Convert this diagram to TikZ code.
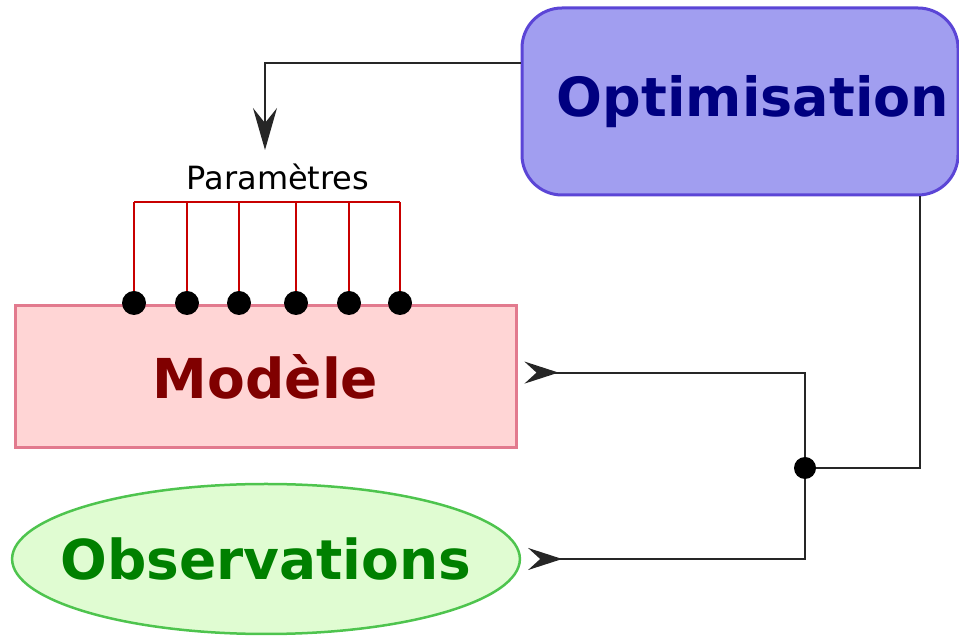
\documentclass[tikz,border=0pt]{standalone}
\usepackage{fontspec}
\setmainfont{DejaVu Sans}
\usepackage{tikz}
\usetikzlibrary{arrows.meta,shapes.geometric,positioning}
\definecolor{optfill}{HTML}{A19EF0}
\definecolor{optline}{HTML}{5B45D6}
\definecolor{opttext}{HTML}{000080}
\definecolor{modfill}{HTML}{FFD5D5}
\definecolor{modline}{HTML}{E27A8E}
\definecolor{modtext}{HTML}{800000}
\definecolor{obsfill}{HTML}{E0FCD2}
\definecolor{obsline}{HTML}{4EC44E}
\definecolor{obstext}{HTML}{008000}
\definecolor{parred}{HTML}{C80000}
\tikzset{
  optbox/.style={draw=optline, fill=optfill, line width=3pt, rounded corners=40pt,
    minimum width=436pt, minimum height=187pt, text=opttext,
    font=\fontsize{54}{60}\selectfont\bfseries},
  modbox/.style={draw=modline, fill=modfill, line width=3pt,
    minimum width=501pt, minimum height=142pt, text=modtext,
    font=\fontsize{55}{60}\selectfont\bfseries},
  obsbox/.style={ellipse, draw=obsline, fill=obsfill, line width=2.5pt,
    inner xsep=-26pt, inner ysep=0pt, minimum width=504pt, minimum height=150pt,
    text=obstext, font=\fontsize{55}{60}\selectfont\bfseries},
  parlbl/.style={font=\fontsize{32}{38}\selectfont, anchor=base},
  pdot/.style={circle, fill=black, inner sep=0pt, minimum size=24pt},
  jdot/.style={circle, fill=black, inner sep=0pt, minimum size=22pt},
  wire/.style={draw=black!85, line width=2pt},
  parline/.style={draw=parred, line width=2pt},
  headend/.style={arrows={-Stealth[length=42pt,width=24pt,inset=15pt]}},
  headstart/.style={arrows={Stealth[reversed,length=34pt,width=22pt,inset=12pt]-},
    shorten <=7pt}
}
\begin{document}
\begin{tikzpicture}[x=1pt,y=1pt]
\useasboundingbox (0,0) rectangle (959,637);

% blocks
\node[optbox] (opt) at (740,535.5) {\hspace*{26pt}Optimisation};
\node[modbox] (mod) at (265.5,260) {Modèle};
\node[obsbox] (obs) at (266,78) {Observations};

% parameters
\node[parlbl] (par) at (278,447) {Paramètres};
\coordinate (bar) at (0,435);
\foreach \x [count=\i] in {134,187,239,296,349,400}
  \node[pdot] (p\i) at (\x,334) {};
\foreach \i in {1,...,6}
  \draw[parline] (p\i.north) -- (p\i.north |- bar);
\draw[parline] (p1 |- bar) -- (p6 |- bar);

% feedback loop
\coordinate (tip) at (265,487);
\node[jdot] (jn) at (805,169) {};
\draw[wire, headend] (opt.170) -| (tip);
\draw[wire, headstart] (mod.1) -| (jn);
\draw[wire, headstart] (obs.-0.7) -| (jn);
\draw[wire] (jn) -| ([xshift=180pt]opt.south);
\end{tikzpicture}
\end{document}
